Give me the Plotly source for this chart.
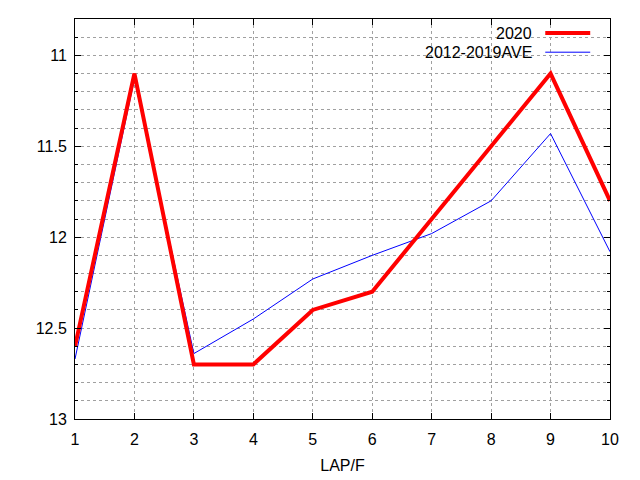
import plotly.graph_objects as go

laps = [1, 2, 3, 4, 5, 6, 7, 8, 9, 10]
y_2020 = [12.6, 11.1, 12.7, 12.7, 12.4, 12.3, 11.9, 11.5, 11.1, 11.8]
y_ave = [12.67, 11.13, 12.64, 12.45, 12.23, 12.1, 11.98, 11.8, 11.43, 12.08]
series_names = ["2020", "2012-2019AVE"]

FONT = "Liberation Sans, Arial, sans-serif"

fig = go.Figure()
fig.add_trace(go.Scatter(x=laps, y=y_ave, mode="lines", name=series_names[1],
                         line=dict(color="blue", width=1)))
fig.add_trace(go.Scatter(x=laps, y=y_2020, mode="lines", name=series_names[0],
                         line=dict(color="red", width=4)))

# gnuplot style key: text on the left, line sample on the right
key_rows = [(series_names[0], "red", 4, 0.965), (series_names[1], "blue", 1, 0.917)]
for label, color, width, ky in key_rows:
    fig.add_annotation(x=0.858, y=ky, xref="paper", yref="paper", text=label,
                       showarrow=False, xanchor="right", yanchor="middle",
                       font=dict(family=FONT, size=16, color="black"))
    fig.add_shape(type="line", xref="paper", yref="paper", x0=0.879, x1=0.963,
                  y0=ky, y1=ky, line=dict(color=color, width=width))

axis_common = dict(showline=True, linecolor="black", linewidth=1, mirror="ticks",
                   ticks="inside", tickcolor="black", zeroline=False,
                   gridcolor="#a0a0a0", griddash="dot", gridwidth=1,
                   tickfont=dict(family=FONT, size=16, color="black"))

fig.update_xaxes(range=[1, 10], dtick=1, ticklen=6, showgrid=True,
                 ticklabelstandoff=6,
                 title=dict(text="LAP/F", standoff=12,
                            font=dict(family=FONT, size=16, color="black")),
                 **axis_common)
fig.update_yaxes(range=[13, 10.8], dtick=0.5, tick0=11, ticklen=6, showgrid=True,
                 ticklabelstandoff=4,
                 minor=dict(dtick=0.1, ticks="inside", ticklen=3, tickcolor="black",
                            showgrid=True, gridcolor="#a0a0a0", griddash="dot"),
                 **axis_common)

# page body has an 8px offset, so margins are shifted to compensate
fig.update_layout(width=640, height=480, showlegend=False,
                  plot_bgcolor="white", paper_bgcolor="white",
                  margin=dict(l=67, r=38, t=11, b=69, autoexpand=False),
                  font=dict(family=FONT, size=16, color="black"))

fig.write_html("out.html")
